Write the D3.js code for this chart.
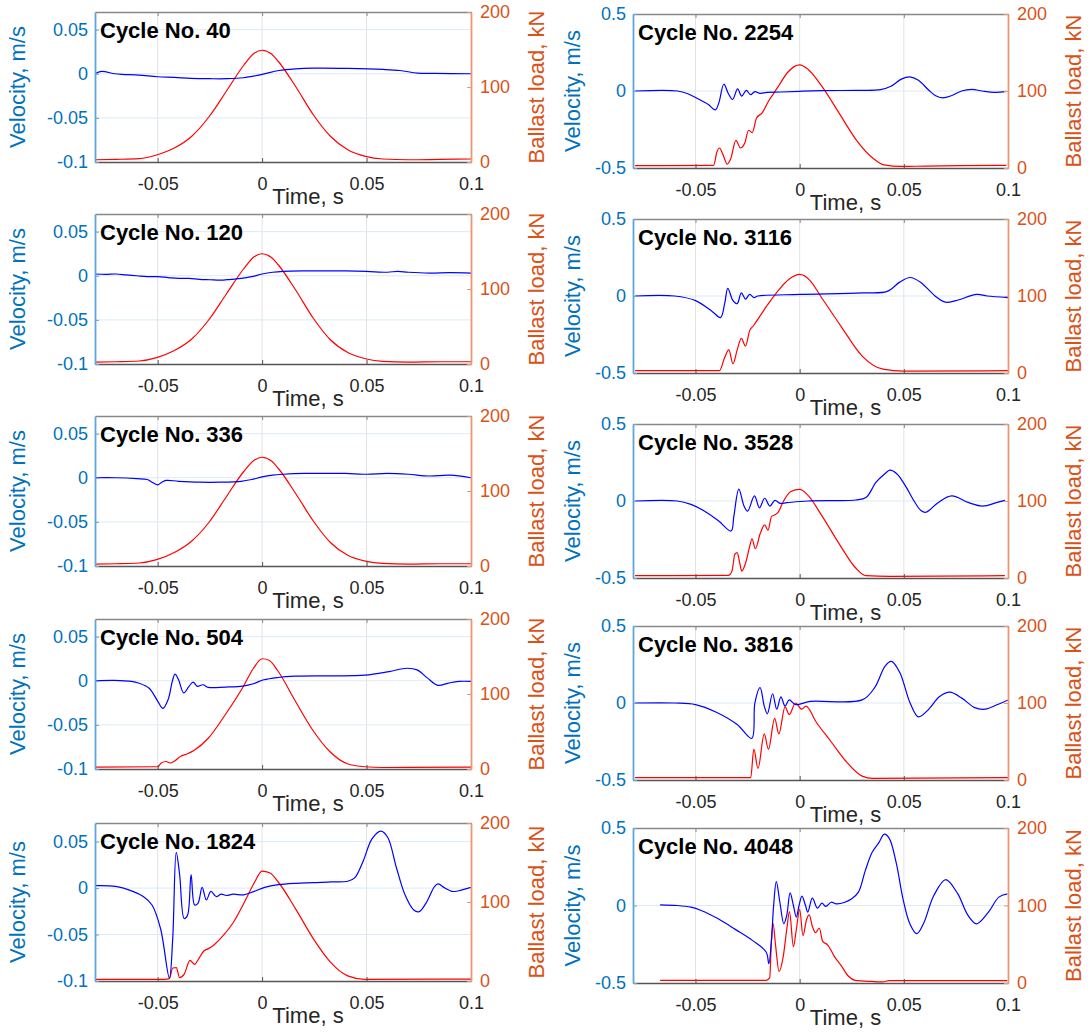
<!DOCTYPE html>
<html>
<head>
<meta charset="utf-8">
<script src="https://cdn.jsdelivr.net/npm/d3@7"></script>
<style>
  body { margin: 0; background: #fff; }
  svg { display: block; }
  text { font-family: "Liberation Sans", Arial, Helvetica, sans-serif; }
</style>
</head>
<body>
<svg id="fig" width="1089" height="1036"></svg>
<script>
// ---------------- data: [time s, value] pairs per loading cycle ----------------
const cycleNumbers = [40, 120, 336, 504, 1824, 2254, 3116, 3528, 3816, 4048];

const timeTicks = [-0.05, 0, 0.05, 0.1];
const velTicksSmall = [-0.1, -0.05, 0, 0.05];
const velTicksLarge = [-0.5, 0, 0.5];
const loadTicks = [0, 100, 200];

// velocity, m/s
const vel40 = [[-0.08,0],[-0.077,0.0026],[-0.0705,0],[-0.067,-0.0007],[-0.059,-0.0015],[-0.05,-0.0034],[-0.042,-0.0041],[-0.034,-0.0052],[-0.025,-0.0056],[-0.017,-0.0056],[-0.009,-0.0045],[0,-0.0007],[0.008,0.0037],[0.016,0.0056],[0.025,0.0063],[0.041,0.006],[0.058,0.0049],[0.066,0.0037],[0.0745,0.0007],[0.083,0.0004],[0.1,0]];
const vel120 = [[-0.08,0.002],[-0.075,0.0015],[-0.07,0.002],[-0.065,0.001],[-0.06,0],[-0.055,-0.001],[-0.05,-0.001],[-0.045,-0.002],[-0.04,-0.003],[-0.035,-0.003],[-0.03,-0.004],[-0.025,-0.0045],[-0.02,-0.005],[-0.015,-0.004],[-0.01,-0.003],[-0.005,-0.001],[0,0.002],[0.005,0.004],[0.01,0.005],[0.02,0.0055],[0.03,0.0055],[0.04,0.0055],[0.05,0.005],[0.06,0.004],[0.065,0.005],[0.07,0.004],[0.08,0.003],[0.09,0.0035],[0.1,0.003]];
const vel336 = [[-0.08,0],[-0.07,0],[-0.06,-0.001],[-0.055,-0.002],[-0.052,-0.006],[-0.05,-0.008],[-0.048,-0.005],[-0.046,-0.003],[-0.04,-0.004],[-0.03,-0.005],[-0.02,-0.005],[-0.01,-0.004],[-0.005,-0.002],[0,0.001],[0.005,0.003],[0.01,0.004],[0.02,0.005],[0.03,0.005],[0.04,0.005],[0.05,0.004],[0.06,0.005],[0.07,0.004],[0.08,0.002],[0.09,0.003],[0.1,0]];
const vel504 = [[-0.08,0],[-0.0708,0.0004],[-0.0625,-0.0007],[-0.0592,-0.0026],[-0.0542,-0.0082],[-0.05,-0.0231],[-0.0475,-0.0313],[-0.045,-0.0213],[-0.043,-0.0007],[-0.0417,0.0075],[-0.04,0.0011],[-0.0375,-0.0138],[-0.035,-0.0063],[-0.033,-0.0015],[-0.031,-0.0063],[-0.0283,-0.0045],[-0.0258,-0.0075],[-0.0175,-0.0071],[-0.0092,-0.006],[-0.0042,-0.0034],[0.0008,0.0011],[0.0075,0.0037],[0.0158,0.0052],[0.0325,0.0056],[0.0492,0.0063],[0.0608,0.0104],[0.0692,0.0142],[0.0742,0.0123],[0.0792,0.003],[0.0842,-0.0052],[0.0892,-0.0026],[0.0942,-0.0007],[0.1,-0.0007]];
const vel1824 = [[-0.0801,0.0026],[-0.0702,0.0018],[-0.0619,-0.0036],[-0.0569,-0.0091],[-0.0527,-0.0182],[-0.0486,-0.0438],[-0.0444,-0.0967],[-0.0428,-0.0547],[-0.0411,0.0383],[-0.0395,0.0146],[-0.0373,-0.0328],[-0.0357,-0.0292],[-0.034,0.0146],[-0.0323,-0.0182],[-0.0307,-0.0164],[-0.0287,0.0007],[-0.0267,-0.0128],[-0.0245,-0.0036],[-0.022,-0.0091],[-0.0196,-0.0066],[-0.0171,-0.008],[-0.0138,-0.0066],[-0.0088,-0.0073],[-0.0038,-0.0036],[0.0012,0.0007],[0.0078,0.0036],[0.0161,0.0051],[0.0244,0.0058],[0.0327,0.0066],[0.041,0.0073],[0.0443,0.0109],[0.0484,0.0292],[0.0526,0.0529],[0.0568,0.0613],[0.0601,0.0547],[0.0643,0.0219],[0.0684,-0.0073],[0.0726,-0.0237],[0.0751,-0.0255],[0.0784,-0.0164],[0.0826,0.0018],[0.0842,0.0044],[0.0875,0],[0.0908,-0.0036],[0.0942,-0.0029],[0.1,0.0007]];
const vel2254 = [[-0.079,0],[-0.0587,0],[-0.0537,-0.0176],[-0.0488,-0.0505],[-0.0438,-0.088],[-0.0405,-0.123],[-0.0388,-0.077],[-0.0364,0.044],[-0.0342,-0.0176],[-0.0322,-0.055],[-0.0298,0.0132],[-0.0278,-0.033],[-0.0256,0.0044],[-0.0236,-0.024],[-0.0215,-0.0044],[-0.019,-0.015],[-0.0157,-0.0088],[-0.0091,-0.0066],[0,-0.002],[0.0107,0.002],[0.0273,0.0044],[0.0388,0.0088],[0.0438,0.0308],[0.0488,0.077],[0.0529,0.092],[0.057,0.07],[0.062,0.0044],[0.0653,-0.031],[0.0686,-0.044],[0.0727,-0.031],[0.0777,0],[0.0826,0.011],[0.0876,0],[0.0934,-0.0088],[0.0992,-0.002]];
const vel3116 = [[-0.079,0],[-0.06,0],[-0.05,-0.03],[-0.042,-0.1],[-0.038,-0.14],[-0.036,-0.05],[-0.0345,0.05],[-0.032,-0.03],[-0.03,-0.05],[-0.028,0.02],[-0.026,-0.02],[-0.024,0.01],[-0.022,-0.01],[-0.02,0],[0,0.01],[0.03,0.02],[0.042,0.03],[0.048,0.09],[0.053,0.12],[0.058,0.09],[0.065,0],[0.07,-0.04],[0.075,-0.03],[0.085,0.01],[0.09,0],[0.1,-0.01]];
const vel3528 = [[-0.079,0],[-0.0588,0],[-0.0522,-0.022],[-0.0456,-0.066],[-0.039,-0.128],[-0.0329,-0.195],[-0.0316,-0.1],[-0.0292,0.077],[-0.0267,-0.033],[-0.025,-0.066],[-0.0217,0.033],[-0.0193,-0.044],[-0.0168,0.018],[-0.0143,-0.033],[-0.0119,0.0044],[-0.0094,-0.015],[-0.0061,-0.011],[0.0038,0],[0.0269,0.0066],[0.0318,0.022],[0.0367,0.122],[0.0409,0.177],[0.0433,0.2],[0.0466,0.177],[0.0507,0.1],[0.0549,0],[0.0582,-0.062],[0.0606,-0.073],[0.0664,-0.011],[0.073,0.033],[0.0812,-0.011],[0.0878,-0.033],[0.0944,-0.011],[0.0985,0.0044]];
const vel3816 = [[-0.079,0],[-0.06,0],[-0.05,-0.01],[-0.04,-0.06],[-0.03,-0.14],[-0.023,-0.23],[-0.0215,0.0],[-0.019,0.1],[-0.017,-0.02],[-0.0155,-0.07],[-0.013,0.06],[-0.011,-0.04],[-0.009,0.04],[-0.007,-0.02],[-0.005,0.02],[-0.002,-0.01],[0.005,0.01],[0.03,0.02],[0.036,0.1],[0.041,0.24],[0.044,0.27],[0.048,0.2],[0.053,0.0],[0.057,-0.09],[0.062,-0.04],[0.067,0.04],[0.072,0.07],[0.078,0.03],[0.084,-0.03],[0.089,-0.04],[0.095,-0.01],[0.1,0.02]];
const vel4048 = [[-0.067,0.0043],[-0.0588,0],[-0.0522,-0.011],[-0.0473,-0.032],[-0.0391,-0.086],[-0.0309,-0.154],[-0.0227,-0.225],[-0.0161,-0.3],[-0.0148,-0.375],[-0.0136,-0.236],[-0.0125,0],[-0.0112,0.154],[-0.0095,0.021],[-0.0076,-0.118],[-0.0062,-0.064],[-0.0046,0.081],[-0.003,0],[-0.0016,-0.075],[-0.0003,0],[0.0011,0.06],[0.0028,0],[0.0039,-0.043],[0.0061,0.047],[0.0085,-0.017],[0.0107,0.015],[0.0126,-0.006],[0.0151,0.021],[0.0176,0.011],[0.0217,0.021],[0.025,0.043],[0.0282,0.086],[0.0315,0.225],[0.0348,0.343],[0.0381,0.407],[0.0406,0.46],[0.043,0.433],[0.0463,0.278],[0.0496,0.043],[0.0529,-0.118],[0.0562,-0.182],[0.0594,-0.118],[0.0644,0.064],[0.0701,0.167],[0.0759,0.075],[0.0808,-0.064],[0.0849,-0.118],[0.0906,-0.043],[0.0956,0.054],[0.0997,0.075]];

// ballast load, kN
const load40 = [[-0.08,3],[-0.07,3.5],[-0.0588,4.4],[-0.0505,9.3],[-0.042,18.6],[-0.0338,34],[-0.0255,60],[-0.0172,94],[-0.0088,129],[-0.0038,145],[0,149],[0.0045,144],[0.0078,134],[0.0162,100],[0.0245,63],[0.0328,34],[0.0412,16],[0.0495,7.5],[0.0578,4],[0.07,3],[0.085,3.5],[0.1,4]];
const load120 = [[-0.08,2.5],[-0.07,3],[-0.0588,4],[-0.0505,8.5],[-0.042,18],[-0.0338,33],[-0.0255,59],[-0.0172,93],[-0.0088,127],[-0.0038,143],[0,147],[0.0045,142],[0.0078,132],[0.0162,98],[0.0245,61],[0.0328,32],[0.0412,15],[0.0495,7],[0.0578,3.5],[0.07,2.5],[0.085,3],[0.1,3]];
const load336 = [[-0.08,2.5],[-0.07,3],[-0.0588,4],[-0.0505,8.5],[-0.042,18],[-0.0338,33],[-0.0255,58],[-0.0172,92],[-0.0088,126],[-0.0038,141],[0,145],[0.0045,140],[0.0078,130],[0.0162,96],[0.0245,60],[0.0328,31],[0.0412,14],[0.0495,6.5],[0.0578,3.5],[0.07,2.5],[0.085,3],[0.1,3]];
const load504 = [[-0.08,2.5],[-0.05,3],[-0.0483,8],[-0.046,10],[-0.044,8],[-0.0417,11],[-0.039,17],[-0.036,20],[-0.0325,25],[-0.0258,41],[-0.0175,73],[-0.0092,109],[-0.0042,134],[0,147],[0.0033,145],[0.0075,131],[0.0158,91],[0.0242,52],[0.0325,23],[0.0408,7],[0.0492,3],[0.0575,2],[0.1,2.5]];
const load1824 = [[-0.08,2],[-0.047,2],[-0.0444,3],[-0.0428,16.5],[-0.0411,17],[-0.0395,4.3],[-0.0373,8.7],[-0.0345,26],[-0.0323,21],[-0.0304,28],[-0.0279,38],[-0.0257,41],[-0.0229,46],[-0.0188,57],[-0.0138,74],[-0.0088,98],[-0.0038,124],[0,139],[0.0036,137],[0.0078,125],[0.0161,91],[0.0244,54],[0.0327,24],[0.041,6.5],[0.0493,2],[0.1,2.5]];
const load2254 = [[-0.079,3],[-0.0413,3.5],[-0.0397,21],[-0.0385,26],[-0.0369,18],[-0.0347,5],[-0.0331,12],[-0.0306,36],[-0.0284,26],[-0.0264,32],[-0.0245,49],[-0.0228,46],[-0.0207,65],[-0.0182,71],[-0.0149,87],[-0.0107,104],[-0.0058,124],[-0.0025,132],[0,134],[0.0041,128],[0.0107,106],[0.019,71],[0.0273,36],[0.0355,12],[0.0405,4],[0.0488,2],[0.0603,2.5],[0.0769,3],[0.0992,3.5]];
const load3116 = [[-0.079,3],[-0.0385,3],[-0.036,20],[-0.034,30],[-0.032,12],[-0.03,30],[-0.028,45],[-0.026,35],[-0.024,55],[-0.022,62],[-0.02,70],[-0.015,90],[-0.01,108],[-0.005,122],[0,128],[0.005,120],[0.01,100],[0.02,60],[0.03,22],[0.04,5],[0.05,2.5],[0.1,3]];
const load3528 = [[-0.079,3],[-0.0341,3.5],[-0.0325,9],[-0.0311,31],[-0.03,33],[-0.0288,20],[-0.0278,9],[-0.0259,20],[-0.0239,42],[-0.0229,51],[-0.0213,38],[-0.0189,58],[-0.0168,69],[-0.0152,62],[-0.0135,80],[-0.0119,82],[-0.0102,86],[-0.0077,100],[-0.0044,112],[0,115],[0.0038,108],[0.0104,82],[0.0186,46],[0.0269,13],[0.0318,3],[0.0433,2],[0.0985,3]];
const load3816 = [[-0.079,3],[-0.0235,3],[-0.022,40],[-0.02,15],[-0.017,60],[-0.015,40],[-0.012,80],[-0.01,60],[-0.007,95],[-0.005,85],[-0.002,100],[0.001,92],[0.003,96],[0.008,75],[0.015,50],[0.022,25],[0.03,5],[0.035,2],[0.1,3]];
const load4048 = [[-0.067,3.5],[-0.0161,3.5],[-0.0144,6.5],[-0.0136,52],[-0.0128,77],[-0.0115,47],[-0.0099,15],[-0.0079,34],[-0.0062,69],[-0.0049,92],[-0.003,47],[-0.0016,69],[0,95],[0.0016,61],[0.0033,82],[0.0046,88],[0.0061,73],[0.0077,65],[0.0094,71],[0.011,54],[0.0135,49],[0.0167,34],[0.02,22],[0.0233,9],[0.0266,3.5],[0.0348,2],[0.0397,1.5],[0.043,3],[0.0997,3]];

const velSeries = [vel40, vel120, vel336, vel504, vel1824, vel2254, vel3116, vel3528, vel3816, vel4048];
const loadSeries = [load40, load120, load336, load504, load1824, load2254, load3116, load3528, load3816, load4048];

// ---------------- layout ----------------
const columns = [
  { left: 95, right: 471, tops: [12, 214, 416, 619, 823], heights: [150, 150, 150, 150, 158],
    velDomain: [-0.1, 0.07], velTicks: velTicksSmall, velLabelX: 17 },
  { left: 633, right: 1008, tops: [14, 219, 424, 626, 828], heights: [154, 154, 154, 154, 155],
    velDomain: [-0.5, 0.5], velTicks: velTicksLarge, velLabelX: 572 }
];

const C = {
  vel: "#0000ff", load: "#ff0000",
  velAxis: "#0072bd", loadAxis: "#d95319", xAxis: "#262626",
  gridX: "#e3e3e3", gridY: "#dbeaf6"
};

const svg = d3.select("#fig");
const fmt = d => String(d);

cycleNumbers.forEach((cycle, i) => {
  const col = columns[Math.floor(i / 5)];
  const row = i % 5;
  const top = col.tops[row], bottom = top + col.heights[row];
  const x = d3.scaleLinear().domain([-0.08, 0.1]).range([col.left, col.right]);
  const yV = d3.scaleLinear().domain(col.velDomain).range([bottom, top]);
  const yL = d3.scaleLinear().domain([0, 200]).range([bottom, top]);

  const g = svg.append("g");
  const clipId = "clip" + i;
  g.append("clipPath").attr("id", clipId).append("rect")
    .attr("x", col.left).attr("y", top).attr("width", col.right - col.left).attr("height", bottom - top);

  // grid
  g.append("g").selectAll("line").data(timeTicks.filter(t => t < 0.1)).join("line")
    .attr("x1", d => x(d)).attr("x2", d => x(d)).attr("y1", top).attr("y2", bottom)
    .attr("stroke", C.gridX).attr("stroke-width", 1);
  g.append("g").selectAll("line").data(col.velTicks.filter(v => v > col.velDomain[0] && v < col.velDomain[1])).join("line")
    .attr("x1", col.left).attr("x2", col.right).attr("y1", d => yV(d)).attr("y2", d => yV(d))
    .attr("stroke", C.gridY).attr("stroke-width", 1);

  // series
  const plot = g.append("g").attr("clip-path", `url(#${clipId})`);
  const lineV = d3.line().x(d => x(d[0])).y(d => yV(d[1])).curve(d3.curveCatmullRom.alpha(0.5));
  const lineL = d3.line().x(d => x(d[0])).y(d => yL(d[1])).curve(d3.curveMonotoneX);
  plot.append("path").datum(loadSeries[i]).attr("d", lineL)
    .attr("fill", "none").attr("stroke", C.load).attr("stroke-width", 1.2);
  plot.append("path").datum(velSeries[i]).attr("d", lineV)
    .attr("fill", "none").attr("stroke", C.vel).attr("stroke-width", 1.2);

  // axes
  const axB = g.append("g").attr("transform", `translate(0,${bottom})`)
    .call(d3.axisBottom(x).tickValues(timeTicks).tickFormat(fmt).tickSizeInner(-4).tickSizeOuter(0).tickPadding(15));
  axB.select(".domain").attr("stroke", "#555").attr("stroke-width", 1.5);
  axB.selectAll(".tick line").attr("stroke", "#555");
  axB.selectAll("text").attr("fill", C.xAxis).attr("font-size", 18);

  const axT = g.append("g").attr("transform", `translate(0,${top})`)
    .call(d3.axisTop(x).tickValues(timeTicks).tickFormat("").tickSizeInner(-4).tickSizeOuter(0));
  axT.select(".domain").attr("stroke", "#888").attr("stroke-width", 1.4);
  axT.selectAll(".tick line").attr("stroke", "#888");

  const axL = g.append("g").attr("transform", `translate(${col.left},0)`)
    .call(d3.axisLeft(yV).tickValues(col.velTicks).tickFormat(fmt).tickSizeInner(-4).tickSizeOuter(0).tickPadding(7));
  axL.select(".domain").attr("stroke", "#5ea6dc").attr("stroke-width", 1.8);
  axL.selectAll(".tick line").attr("stroke", "#5ea6dc");
  axL.selectAll("text").attr("fill", C.velAxis).attr("font-size", 18);

  const axR = g.append("g").attr("transform", `translate(${col.right},0)`)
    .call(d3.axisRight(yL).tickValues(loadTicks).tickFormat(fmt).tickSizeInner(-4).tickSizeOuter(0).tickPadding(9));
  axR.select(".domain").attr("stroke", "#eb9774").attr("stroke-width", 1.8);
  axR.selectAll(".tick line").attr("stroke", "#eb9774");
  axR.selectAll("text").attr("fill", C.loadAxis).attr("font-size", 18);

  // labels
  const midY = (top + bottom) / 2;
  g.append("text").attr("transform", `translate(${col.velLabelX},${midY}) rotate(-90)`)
    .attr("text-anchor", "middle").attr("dominant-baseline", "central")
    .attr("font-size", 22).attr("fill", C.velAxis).text("Velocity, m/s");
  g.append("text").attr("transform", `translate(${col.right + 65},${midY}) rotate(-90)`)
    .attr("text-anchor", "middle").attr("dominant-baseline", "central")
    .attr("font-size", 22).attr("fill", C.loadAxis).text("Ballast load, kN");
  g.append("text").attr("x", (col.left + col.right) / 2 + 25).attr("y", bottom + 42)
    .attr("text-anchor", "middle").attr("font-size", 22).attr("fill", C.xAxis).text("Time, s");
  g.append("text").attr("x", col.left + 5).attr("y", top + 26)
    .attr("font-size", 22).attr("font-weight", "bold").attr("fill", "#000").text("Cycle No. " + cycle);
});
</script>
</body>
</html>
